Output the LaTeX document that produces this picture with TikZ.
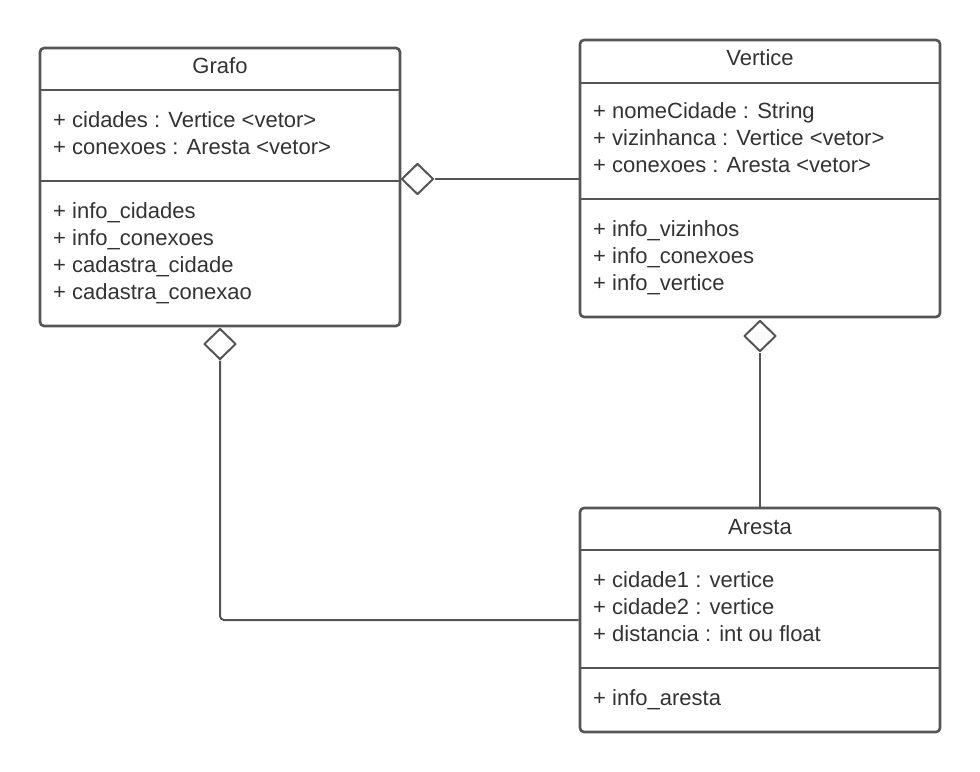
\documentclass[tikz,border=0pt]{standalone}
\usepackage{fontspec}
\setmainfont{Liberation Sans}
\usetikzlibrary{shapes.geometric}
\definecolor{umlgray}{HTML}{555555}
\definecolor{umltext}{HTML}{333333}
\begin{document}
\begin{tikzpicture}[>=latex,line join=bevel,
  classbox/.style={draw=umlgray,line width=2.6bp,rounded corners=4bp,fill=white,inner sep=0pt},
  divider/.style={draw=umlgray,line width=2.6bp},
  assoc/.style={draw=umlgray,line width=2bp},
  aggr/.style={diamond,draw=umlgray,line width=2bp,fill=white,inner sep=0pt,minimum width=32bp,minimum height=31bp},
  umltxt/.style={text=umltext,inner sep=0pt,font=\fontsize{22bp}{27bp}\selectfont},
  member/.style={umltxt,anchor=base west}]
\useasboundingbox (0bp,0bp) rectangle (980bp,-772bp);
%%
\node (node_grafo) at (220.0bp,-187.0bp) [classbox,minimum width=360bp,minimum height=278bp] {};
  \node (node_vertice) at (760.0bp,-178.5bp) [classbox,minimum width=360bp,minimum height=277bp] {};
  \node (node_aresta) at (760.0bp,-620.0bp) [classbox,minimum width=360bp,minimum height=224bp] {};
%
  \draw [divider] (node_grafo.west |- 0,-90bp) -- (node_grafo.east |- 0,-90bp);
  \draw [divider] (node_grafo.west |- 0,-181bp) -- (node_grafo.east |- 0,-181bp);
  \draw [divider] (node_vertice.west |- 0,-83bp) -- (node_vertice.east |- 0,-83bp);
  \draw [divider] (node_vertice.west |- 0,-199bp) -- (node_vertice.east |- 0,-199bp);
  \draw [divider] (node_aresta.west |- 0,-550bp) -- (node_aresta.east |- 0,-550bp);
  \draw [divider] (node_aresta.west |- 0,-668bp) -- (node_aresta.east |- 0,-668bp);
%
  \node (title_grafo) at (220.0bp,-73.3bp) [umltxt,anchor=base] {Grafo};
  \node (attr_grafo_0) at (53.0bp,-127.3bp) [member] {+ cidades : Vertice <vetor>};
  \node (attr_grafo_1) at (53.0bp,-154.3bp) [member] {+ conexoes : Aresta <vetor>};
  \node (oper_grafo_0) at (53.0bp,-218.3bp) [member] {+ info\_cidades};
  \node (oper_grafo_1) at (53.0bp,-245.3bp) [member] {+ info\_conexoes};
  \node (oper_grafo_2) at (53.0bp,-272.3bp) [member] {+ cadastra\_cidade};
  \node (oper_grafo_3) at (53.0bp,-299.3bp) [member] {+ cadastra\_conexao};
%
  \node (title_vertice) at (760.0bp,-65.0bp) [umltxt,anchor=base] {Vertice};
  \node (attr_vertice_0) at (593.0bp,-118.0bp) [member] {+ nomeCidade : String};
  \node (attr_vertice_1) at (593.0bp,-145.0bp) [member] {+ vizinhanca : Vertice <vetor>};
  \node (attr_vertice_2) at (593.0bp,-172.0bp) [member] {+ conexoes : Aresta <vetor>};
  \node (oper_vertice_0) at (593.0bp,-236.0bp) [member] {+ info\_vizinhos};
  \node (oper_vertice_1) at (593.0bp,-263.0bp) [member] {+ info\_conexoes};
  \node (oper_vertice_2) at (593.0bp,-290.0bp) [member] {+ info\_vertice};
%
  \node (title_aresta) at (760.0bp,-534.0bp) [umltxt,anchor=base] {Aresta};
  \node (attr_aresta_0) at (593.0bp,-587.0bp) [member] {+ cidade1 : vertice};
  \node (attr_aresta_1) at (593.0bp,-614.0bp) [member] {+ cidade2 : vertice};
  \node (attr_aresta_2) at (593.0bp,-641.0bp) [member] {+ distancia : int ou float};
  \node (oper_aresta_0) at (593.0bp,-705.0bp) [member] {+ info\_aresta};
%
  \node (agg_0) at (417.5bp,-179.0bp) [aggr] {};
  \node (agg_1) at (220.0bp,-344.0bp) [aggr] {};
  \node (agg_2) at (760.0bp,-336.0bp) [aggr] {};
  \draw [assoc] (agg_0.east) -- (agg_0.east -| node_vertice.west);
  \draw [assoc,rounded corners=4bp] (agg_1.south) |- (node_aresta.west);
  \draw [assoc] (agg_2.south) -- (node_aresta.north);
%
\end{tikzpicture}
\end{document}
